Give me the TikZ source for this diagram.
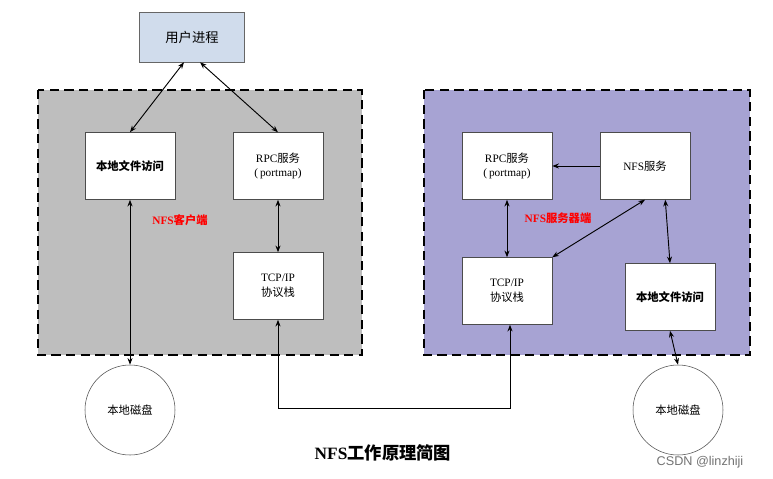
\documentclass[tikz,border=0pt]{standalone}
\usepackage{fontspec}
\setmainfont{Liberation Serif}
\newfontfamily\cjk{Noto Sans CJK SC}
\newfontfamily\wmfont{Liberation Sans}
\usetikzlibrary{arrows.meta}
\begin{document}
\begin{tikzpicture}[x=0.0264cm,y=-0.0264cm,
  box/.style={draw=black!70,fill=white,minimum width=90*0.0264cm,minimum height=67*0.0264cm,align=center,font=\fontsize{8.5}{11}\selectfont},
  region/.style={draw=black,line width=1.6pt,dash pattern=on 7pt off 4pt},
  lnk/.style={{Stealth[length=5pt]}-{Stealth[length=5pt]},line width=0.7pt},
  one/.style={-{Stealth[length=5pt]},line width=0.7pt},
  disk/.style={circle,draw=black!70,fill=white,minimum size=90*0.0264cm,font=\fontsize{8.5}{11}\selectfont}]
\useasboundingbox[fill=white] (0,0) rectangle (773,478);
\fill[fill={rgb,255:red,190;green,190;blue,190}] (38,90) rectangle (362,355);
\draw[region] (38,90) rectangle (362,355);
\fill[fill={rgb,255:red,167;green,163;blue,211}] (424,90) rectangle (750,355);
\draw[region] (424,90) rectangle (750,355);
\node[draw=black!60,fill={rgb,255:red,208;green,220;blue,236},minimum width=105*0.0264cm,minimum height=50*0.0264cm,font=\fontsize{10}{12}\selectfont] (user) at (192,37) {\cjk 用户进程};
\node[box] (lfa) at (130,166) {\cjk\bfseries 本地文件访问};
\node[box] (lrpc) at (278,166) {RPC{\cjk 服务}\\({\cjk\,}portmap)};
\node[box] (ltcp) at (278,286) {TCP/IP\\{\cjk 协议栈}};
\node[text=red,font=\fontsize{8.5}{11}\selectfont\bfseries] (lbl1) at (180,220) {NFS{\cjk 客户端}};
\node[disk] (ld) at (130,410) {\cjk 本地磁盘};
\node[box] (rrpc) at (507,166) {RPC{\cjk 服务}\\({\cjk\,}portmap)};
\node[box] (nfs) at (645,166) {NFS{\cjk 服务}};
\node[box] (rtcp) at (507,291) {TCP/IP\\{\cjk 协议栈}};
\node[box] (rfa) at (670,297) {\cjk\bfseries 本地文件访问};
\node[text=red,font=\fontsize{8.5}{11}\selectfont\bfseries] (lbl2) at (558,218) {NFS{\cjk 服务器端}};
\node[disk] (rd) at (678,410) {\cjk 本地磁盘};
\node[font=\fontsize{13}{15}\selectfont\bfseries] (title) at (383,453) {NFS{\cjk 工作原理简图}};
\node[text=black!55,font=\wmfont\fontsize{9.5}{11}\selectfont] (wm) at (700,462) {CSDN @linzhiji};
\draw[lnk] (user.south) ++(-8,0) -- (lfa.north);
\draw[lnk] (user.south) ++(8,0) -- (lrpc.north);
\draw[lnk] (lfa) -- (ld);
\draw[lnk] (lrpc) -- (ltcp);
\draw[lnk] (ltcp.south) -- (278,408) -- (510,408) -- (rtcp.south -| 510,0);
\draw[one] (nfs.west) -- (rrpc.east);
\draw[lnk] (rrpc) -- (rtcp);
\draw[lnk] (rtcp.north east) -- (nfs.south);
\draw[lnk] (nfs.south east) ++(-25,0) -- (rfa.north);
\draw[lnk] (rfa.south) -- (rd.north);
\end{tikzpicture}
\end{document}
